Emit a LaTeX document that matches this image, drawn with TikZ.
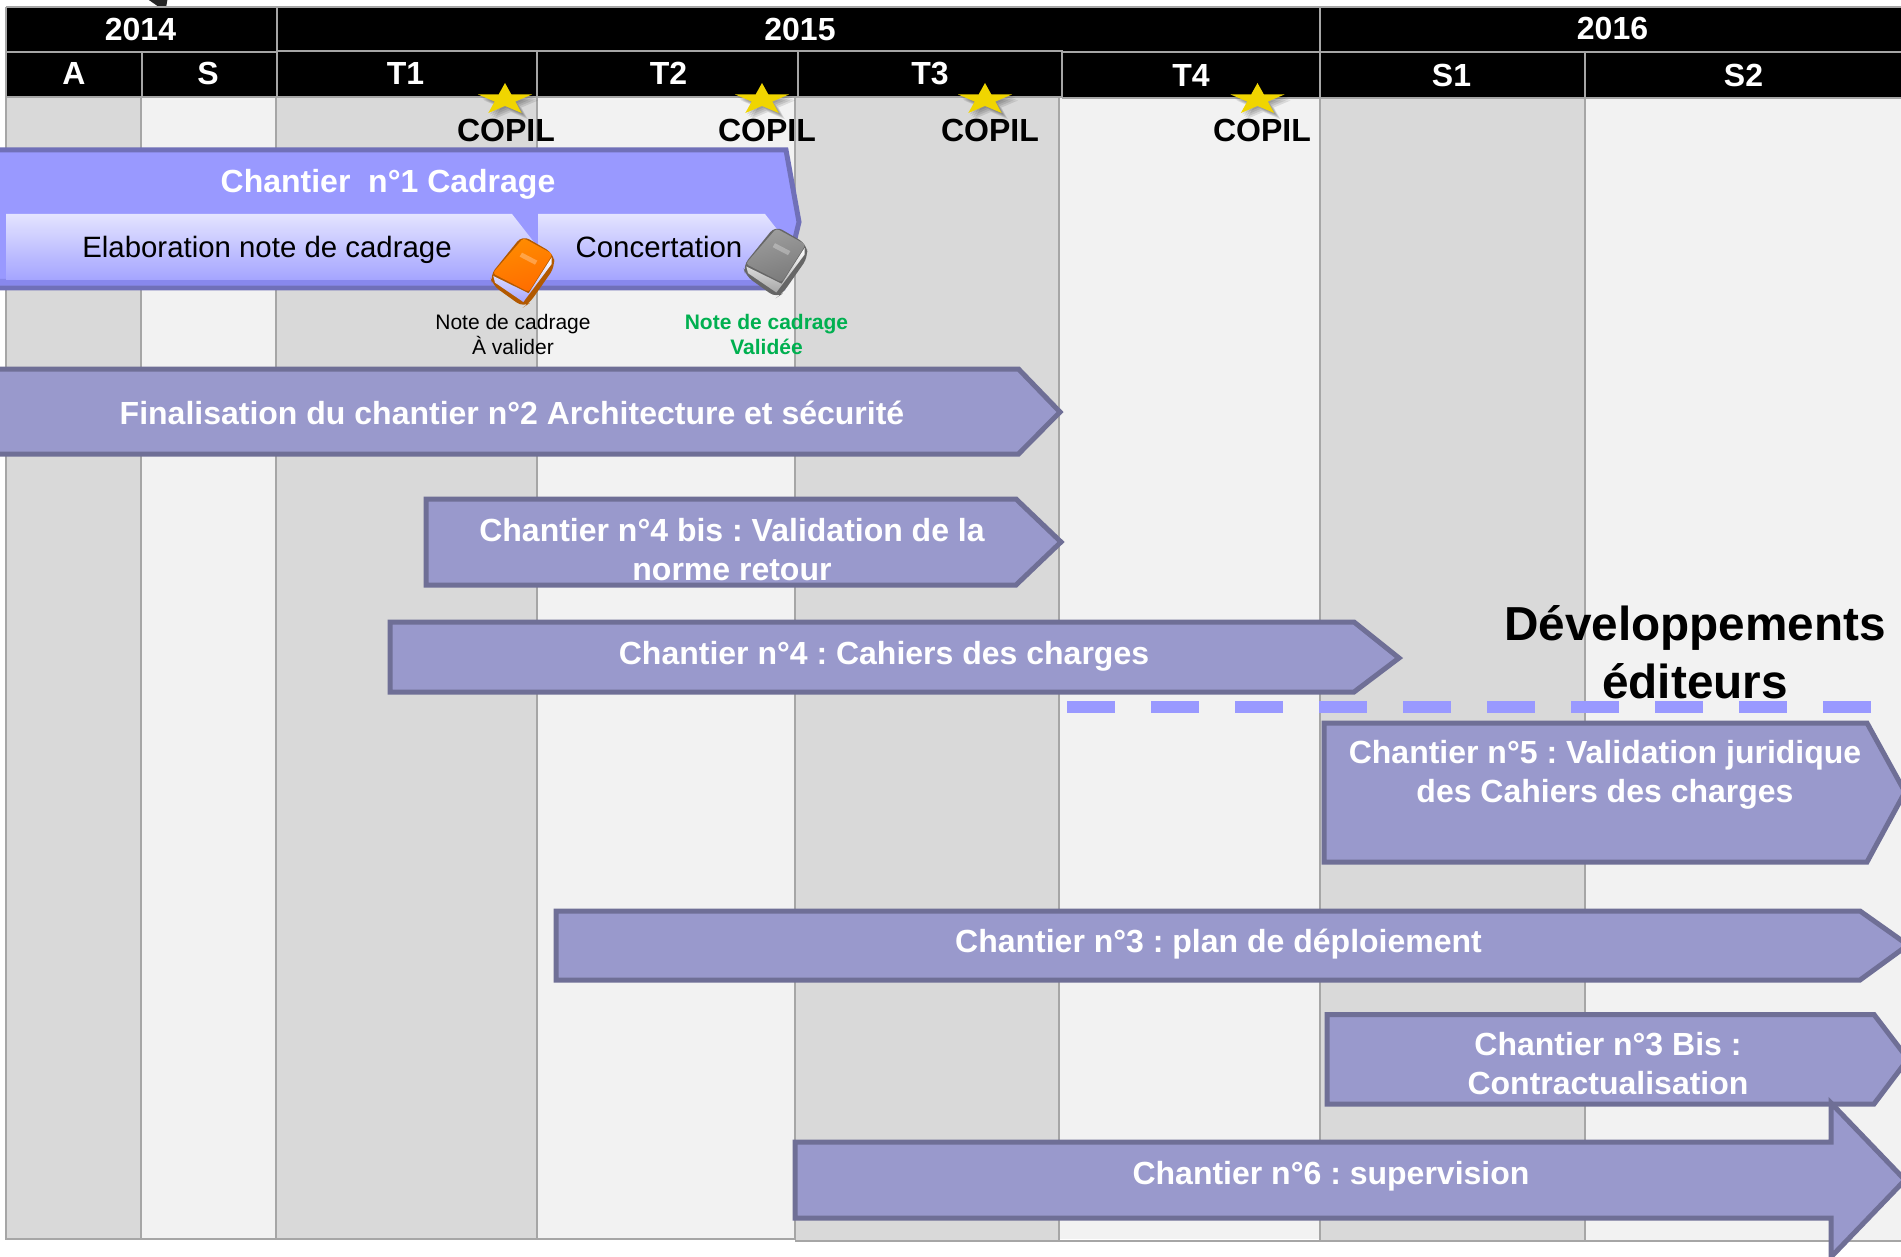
\documentclass[tikz,border=0pt]{standalone}
\usepackage{fontspec}
\setmainfont{Liberation Sans}
\definecolor{colD}{HTML}{D9D9D9}
\definecolor{colL}{HTML}{F2F2F2}
\definecolor{grid}{HTML}{A6A6A6}
\definecolor{barfill}{HTML}{9999CC}
\definecolor{barline}{HTML}{6F6F96}
\definecolor{chfill}{HTML}{9999FF}
\definecolor{chline}{HTML}{7070B8}
\definecolor{chband}{HTML}{8888EC}
\definecolor{gradtop}{HTML}{E4E4FF}
\definecolor{gradbot}{HTML}{A4A4FF}
\definecolor{starc}{HTML}{F0D500}
\definecolor{valgreen}{HTML}{00B050}
\newcommand{\selecttext}{\selectfont\frenchspacing}
\tikzset{
  x=1pt,y=-1pt,
  bar/.style={draw=barline,fill=barfill,line width=5pt,line join=miter},
  gridline/.style={draw=grid,line width=2pt},
  hdrline/.style={draw=grid,line width=2.6pt},
  hdr/.style={text=white,font=\fontsize{32}{36}\selecttext\bfseries,inner sep=0pt,text height=23pt,text depth=0pt},
  bartxt/.style={text=white,font=\fontsize{32}{39}\selecttext\bfseries,inner sep=0pt,align=center},
  subtxt/.style={text=black,font=\fontsize{29.4}{36}\selecttext,inner sep=0pt,text height=21pt,text depth=0pt},
  copil/.style={text=black,font=\fontsize{32}{36}\selecttext\bfseries,inner sep=0pt,text height=23pt,text depth=0pt},
  notetxt/.style={font=\fontsize{21}{25}\selecttext,inner sep=0pt,align=center},
}
\newcommand{\starmark}[1]{%
  \foreach \o in {1.5,3,4.5,6}{%
    \fill[black,opacity=.10,shift={(#1+\o,99.6+\o)},xscale=28.4,yscale=16.6]
      (0,-1)--(.2245,-.309)--(.951,-.309)--(.363,.118)--(.588,.809)--(0,.382)--(-.588,.809)--(-.363,.118)--(-.951,-.309)--(-.2245,-.309)--cycle;}
  \fill[starc,shift={(#1,99.6)},xscale=28.4,yscale=16.6]
      (0,-1)--(.2245,-.309)--(.951,-.309)--(.363,.118)--(.588,.809)--(0,.382)--(-.588,.809)--(-.363,.118)--(-.951,-.309)--(-.2245,-.309)--cycle;}
% book, in coordinates of a 3x crop
\newcommand{\bookat}[6]{%
  \begin{scope}[shift={(#1,#2)},xscale=.3333,yscale=.3333]
    \fill[#5,rounded corners=8pt] (150,226) -- (158,256) -- (250,322) -- (268,310) -- (345,200) -- (340,160) -- (247,106) -- cycle;
    \shade[top color=white,bottom color=#6!35!white,shading angle=0]
       (160,228) -- (165,248) -- (250,306) -- (335,192) -- (335,172) -- (266,280) -- cycle;
    \shade[top color=#3,bottom color=#4,shading angle=15,rounded corners=3pt]
       (250,114) -- (338,162) -- (266,276) -- (158,220) -- cycle;
    \fill[white,opacity=.28] (246,158) -- (292,182) -- (285,194) -- (239,170) -- cycle;
  \end{scope}}
\begin{document}
\begin{tikzpicture}
\useasboundingbox (0,0) rectangle (1901,1257);
\clip (0,0) rectangle (1901,1257);
\fill[white] (0,0) rectangle (1901,1257);
% stray mark at the top
\fill[black!85,rounded corners=2pt] (143,-4) -- (168,-4) -- (166,8) -- (159,7) -- cycle;
% columns
\fill[colD] (6,97) rectangle (141,1239);
\fill[colL] (141,97) rectangle (276,1239);
\fill[colD] (276,97) rectangle (537,1239);
\fill[colL] (537,97) rectangle (795,1239);
\fill[colD] (795,97) rectangle (1059,1241);
\fill[colL] (1059,97) rectangle (1320,1239);
\fill[colD] (1320,97) rectangle (1585,1241);
\fill[colL] (1585,97) rectangle (1901,1241);
\foreach \c in {6,141,276,537,795,1059,1320,1585}{\draw[gridline] (\c,97) -- (\c,1240);}
\draw[gridline] (6,1239) -- (795,1239);
\draw[gridline] (795,1241) -- (1901,1241);
% header
\fill[black] (6,8) rectangle (1901,97);
\draw[hdrline] (6,7) -- (1901,7);
\draw[hdrline] (6,52) -- (277,52);
\draw[hdrline] (277,51) -- (1063,51);
\draw[hdrline] (1063,52) -- (1901,52);
\draw[hdrline] (6,97) -- (1062,97);
\draw[hdrline] (1062,98) -- (1901,98);
\foreach \c in {6,277,1320}{\draw[gridline] (\c,7) -- (\c,52);}
\foreach \c in {6,142,277,537,798,1062,1320,1585}{\draw[gridline] (\c,52) -- (\c,97);}
\node[hdr] (y14) at (140.5,29) {2014};
\node[hdr] (y15) at (800,29) {2015};
\node[hdr] (y16) at (1612.5,28) {2016};
\node[hdr] (qa) at (74,73) {A};
\node[hdr] (qs) at (208,73) {S};
\node[hdr] (q1) at (405.5,73) {T1};
\node[hdr] (q2) at (668.5,73) {T2};
\node[hdr] (q3) at (930,73) {T3};
\node[hdr] (q4) at (1191,75) {T4};
\node[hdr] (s1) at (1451.5,75) {S1};
\node[hdr] (s2) at (1743.5,75) {S2};
% stars and COPIL
\starmark{505}\starmark{762}\starmark{985}\starmark{1257.5}
\node[copil] (c1) at (506,130) {COPIL};
\node[copil] (c2) at (767,130) {COPIL};
\node[copil] (c3) at (990,130) {COPIL};
\node[copil] (c4) at (1262,130) {COPIL};
% Chantier 1
\draw[fill=chfill,draw=chline,line width=5pt,line join=miter]
  (-10,150) -- (786,150) -- (799,222) -- (783,288) -- (-10,288) -- cycle;
\fill[chband] (-5,279) -- (787,279) -- (785,285.5) -- (-5,285.5) -- cycle;
\shade[top color=gradtop,bottom color=gradbot,shading angle=0]
  (6,214) -- (512,214) -- (537,246) -- (512,280) -- (6,280) -- cycle;
\shade[top color=gradtop,bottom color=gradbot,shading angle=0]
  (538,214) -- (765,214) -- (790,246) -- (765,280) -- (538,280) -- cycle;
\node[text=white,font=\fontsize{32}{39}\selecttext\bfseries,inner sep=0pt,text height=23pt,text depth=0pt] (ch1) at (388,181) {Chantier\ \ n°1 Cadrage};
\node[subtxt] (elab) at (267,247) {Elaboration note de cadrage};
\node[subtxt] (conc) at (659,247) {Concertation};
% books
\bookat{440}{200}{orange!90!yellow}{orange!85!red}{orange!70!black}{blue}
\bookat{693}{190.5}{black!38}{black!52}{black!60}{black}
\node[notetxt,text=black] (n1) at (513,334) {Note de cadrage\\À valider};
\node[notetxt,text=valgreen,font=\fontsize{21}{25}\selecttext\bfseries] (n2) at (766.5,334) {Note de cadrage\\Validée};
% bars
\draw[bar] (-10,369) -- (1018.5,369) -- (1060,412) -- (1018.5,454) -- (-10,454) -- cycle;
\node[bartxt] (t2) at (512,413) {Finalisation du chantier n°2 Architecture et sécurité};
\draw[bar] (426,499) -- (1016,499) -- (1061,542) -- (1016,585) -- (426,585) -- cycle;
\node[bartxt] (t4b) at (732,549.5) {Chantier n°4 bis : Validation de la\\norme retour};
\draw[bar] (390,622) -- (1354,622) -- (1399,658) -- (1354,692) -- (390,692) -- cycle;
\node[bartxt] (t4) at (884,656.5) {Chantier n°4 : Cahiers des charges};
\draw[chfill,line width=12pt,dash pattern=on 48pt off 36pt] (1067,706.5) -- (1871,706.5);
\node[text=black,font=\fontsize{47.7}{58}\selecttext\bfseries,inner sep=0pt,align=center] (dev) at (1695,652.5) {Développements\\éditeurs};
\draw[bar] (1324,723) -- (1867,723) -- (1905,792) -- (1867,862) -- (1324,862) -- cycle;
\node[bartxt] (t5) at (1605,774.5) {Chantier n°5 : Validation juridique\\des Cahiers des charges};
\draw[bar] (556,911) -- (1860,911) -- (1908,945) -- (1860,980) -- (556,980) -- cycle;
\node[bartxt] (t3) at (1218.5,944.5) {Chantier n°3 : plan de déploiement};
\draw[bar] (1327,1014.5) -- (1874,1014.5) -- (1908,1059) -- (1874,1104) -- (1327,1104) -- cycle;
\node[bartxt] (t3b) at (1608,1064) {Chantier n°3 Bis :\\Contractualisation};
\draw[bar] (795,1142) -- (1831,1142) -- (1831,1103) -- (1905,1180) -- (1831,1257) -- (1831,1218) -- (795,1218) -- cycle;
\node[bartxt] (t6) at (1331,1176.5) {Chantier n°6 : supervision};
\end{tikzpicture}
\end{document}
